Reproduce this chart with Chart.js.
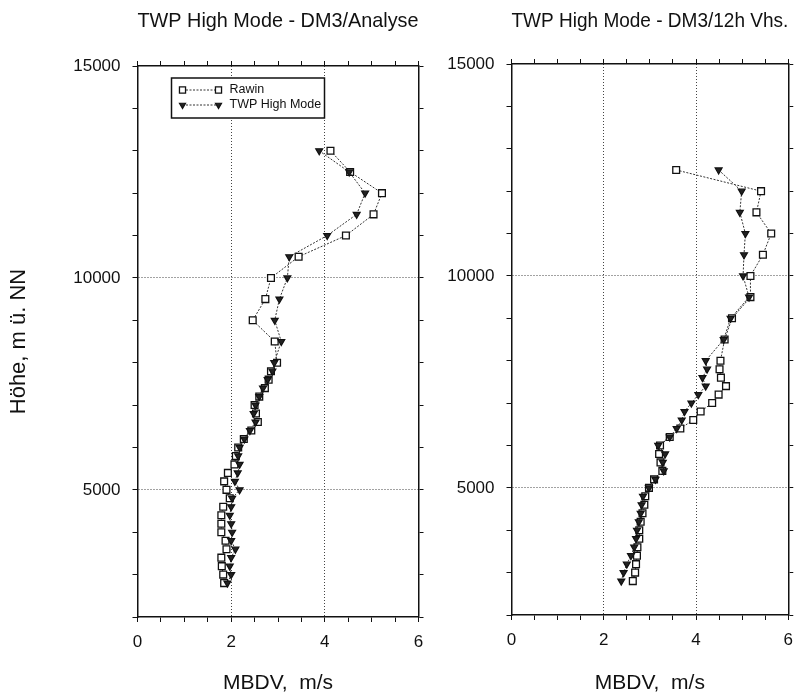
<!DOCTYPE html>
<html>
<head>
<meta charset="utf-8">
<title>MBDV profiles</title>
<script src="https://cdn.jsdelivr.net/npm/chart.js@4.4.1/dist/chart.umd.min.js"></script>
<style>
  html, body { margin: 0; padding: 0; background: #fff; }
  #wrap { position: relative; width: 803px; height: 698px; overflow: hidden; }
  .panel { position: absolute; top: 0; height: 698px; }
  #left { left: 0; width: 440px; }
  #right { left: 440px; width: 363px; }
</style>
</head>
<body>
<div id="wrap">
  <div class="panel" id="left"><canvas id="chartAnalyse"></canvas></div>
  <div class="panel" id="right"><canvas id="chartForecast"></canvas></div>
</div>
<script>
// heights (m above sea level) of the compared levels
const heightsAnalyse = [13000, 12500, 12000, 11500, 11000, 10500, 10000, 9500, 9000, 8500, 8000,
  7800, 7600, 7400, 7200, 7000, 6800, 6600, 6400, 6200, 6000, 5800, 5600, 5400, 5200, 5000,
  4800, 4600, 4400, 4200, 4000, 3800, 3600, 3400, 3200, 3000, 2800];
const heightsForecast = [12500, 12000, 11500, 11000, 10500, 10000, 9500, 9000, 8500, 8000,
  7800, 7600, 7400, 7200, 7000, 6800, 6600, 6400, 6200, 6000, 5800, 5600, 5400, 5200, 5000,
  4800, 4600, 4400, 4200, 4000, 3800, 3600, 3400, 3200, 3000, 2800];

// MBDV (m/s) against the DM3 analysis
const rawinAnalyse = [4.12, 4.54, 5.22, 5.04, 4.45, 3.44, 2.85, 2.73, 2.46, 2.93, 2.98,
  2.85, 2.80, 2.72, 2.60, 2.50, 2.53, 2.57, 2.43, 2.27, 2.15, 2.10, 2.07, 1.93, 1.85, 1.90,
  1.97, 1.83, 1.79, 1.79, 1.79, 1.88, 1.90, 1.79, 1.80, 1.83, 1.85];
const twpAnalyse = [3.88, 4.52, 4.86, 4.68, 4.05, 3.24, 3.20, 3.03, 2.93, 3.07, 2.92,
  2.88, 2.78, 2.68, 2.60, 2.52, 2.48, 2.52, 2.40, 2.28, 2.18, 2.15, 2.18, 2.14, 2.08, 2.18,
  2.02, 2.00, 1.97, 2.00, 2.02, 2.00, 2.09, 2.00, 1.97, 2.00, 1.92];

// MBDV (m/s) against the DM3 12 h forecast
const rawinForecast = [3.57, 5.41, 5.31, 5.63, 5.45, 5.18, 5.18, 4.78, 4.62, 4.53,
  4.51, 4.54, 4.65, 4.49, 4.35, 4.10, 3.94, 3.66, 3.43, 3.22, 3.20, 3.23, 3.27, 3.09, 2.98,
  2.90, 2.88, 2.84, 2.80, 2.77, 2.77, 2.73, 2.72, 2.70, 2.68, 2.63];
const twpForecast = [4.49, 4.99, 4.95, 5.07, 5.04, 5.02, 5.15, 4.75, 4.60, 4.21,
  4.24, 4.14, 4.21, 4.05, 3.90, 3.75, 3.69, 3.58, 3.43, 3.18, 3.33, 3.28, 3.30, 3.12, 2.98,
  2.85, 2.82, 2.80, 2.76, 2.72, 2.70, 2.66, 2.59, 2.50, 2.43, 2.38];

const xTickLabels = [0, 2, 4, 6];
const yTickLabels = [5000, 10000, 15000];
const xGridLines = [2, 4];
const yGridLines = [5000, 10000];

const FONT = '"Liberation Sans", Arial, Helvetica, sans-serif';
const INK = '#111';

function toPoints(values, heights) {
  return heights.map((h, i) => ({ x: values[i], y: h }));
}

// boxed legend with a short line sample and a marker at both ends
const profileLegend = {
  id: 'profileLegend',
  afterDatasetsDraw(chart) {
    const { ctx, chartArea } = chart;
    const x0 = chartArea.left + 34;
    const y0 = chartArea.top + 12;
    ctx.save();
    ctx.fillStyle = '#fff';
    ctx.fillRect(x0, y0, 153, 40);
    ctx.strokeStyle = INK;
    ctx.lineWidth = 1.5;
    ctx.strokeRect(x0, y0, 153, 40);
    chart.data.datasets.forEach((ds, i) => {
      const y = y0 + 12 + i * 15;
      const xa = x0 + 11;
      const xb = x0 + 47;
      ctx.setLineDash(ds.borderDash);
      ctx.strokeStyle = ds.borderColor;
      ctx.lineWidth = ds.borderWidth;
      ctx.beginPath();
      ctx.moveTo(xa, y);
      ctx.lineTo(xb, y);
      ctx.stroke();
      ctx.setLineDash([]);
      const style = { pointStyle: ds.pointStyle, rotation: ds.pointRotation, radius: ds.pointRadius - 0.5, borderWidth: ds.pointBorderWidth };
      ctx.fillStyle = ds.pointBackgroundColor;
      ctx.strokeStyle = ds.pointBorderColor;
      ctx.lineWidth = ds.pointBorderWidth;
      Chart.helpers.drawPoint(ctx, style, xa, y);
      Chart.helpers.drawPoint(ctx, style, xb, y);
      ctx.fillStyle = INK;
      ctx.font = '12.5px ' + FONT;
      ctx.textBaseline = 'middle';
      ctx.fillText(ds.label, xb + 11, y);
    });
    ctx.restore();
  }
};

function buildPanel(canvasId, cfg) {
  const ctx = document.getElementById(canvasId).getContext('2d');
  const tickFont = { family: FONT, size: 17 };
  const titleFont = { family: FONT, size: 21 };

  return new Chart(ctx, {
    type: 'scatter',
    data: {
      datasets: [{
        label: 'Rawin',
        data: toPoints(cfg.rawin, cfg.heights),
        showLine: true,
        order: 2,
        borderColor: '#333',
        borderWidth: 1,
        borderDash: [2, 1.5],
        pointStyle: 'rect',
        pointRotation: 0,
        pointRadius: 4.8,
        pointBorderWidth: 1.3,
        pointBorderColor: INK,
        pointBackgroundColor: '#fff'
      }, {
        label: 'TWP High Mode',
        data: toPoints(cfg.twp, cfg.heights),
        showLine: true,
        order: 1,
        borderColor: '#333',
        borderWidth: 1,
        borderDash: [2, 1.5],
        pointStyle: 'triangle',
        pointRotation: 180,
        pointRadius: 4,
        pointBorderWidth: 1.2,
        pointBorderColor: INK,
        pointBackgroundColor: '#222'
      }]
    },
    options: {
      responsive: true,
      maintainAspectRatio: false,
      animation: false,
      layout: { padding: 0 },
      plugins: {
        legend: { display: false },
        tooltip: { enabled: false }
      },
      scales: {
        x: {
          type: 'linear', position: 'bottom', min: 0, max: 6,
          ticks: {
            stepSize: 0.5, autoSkip: false, maxRotation: 0, color: INK, font: tickFont, padding: 10,
            callback: v => (xTickLabels.includes(v) ? v : '')
          },
          grid: {
            color: c => (c.tick && xGridLines.includes(c.tick.value) ? '#444' : 'rgba(0,0,0,0)'),
            tickColor: INK, tickLength: 5, lineWidth: 1
          },
          border: { display: true, color: INK, width: 1.5, dash: [1, 2] },
          title: { display: true, text: 'MBDV,  m/s', color: INK, font: titleFont, padding: { top: 0, bottom: 2 } },
          afterFit: s => { s.height = 698 - cfg.bottom; }
        },
        xTop: {
          type: 'linear', position: 'top', min: 0, max: 6,
          ticks: { stepSize: 0.5, display: false, autoSkip: false },
          grid: { drawOnChartArea: false, tickColor: INK, tickLength: 5 },
          border: { display: true, color: INK, width: 1.5 },
          title: { display: true, text: cfg.title, color: INK, font: titleFont, padding: { top: 9, bottom: 0 } },
          afterFit: s => { s.height = cfg.top; }
        },
        y: {
          type: 'linear', position: 'left', min: 2000, max: 15000,
          ticks: {
            stepSize: 1000, autoSkip: false, color: INK, font: tickFont, padding: 12,
            callback: v => (yTickLabels.includes(v) ? v : '')
          },
          grid: {
            color: c => (c.tick && yGridLines.includes(c.tick.value) ? '#444' : 'rgba(0,0,0,0)'),
            tickColor: INK, tickLength: 5, lineWidth: 1
          },
          border: { display: true, color: INK, width: 1.5, dash: [1, 2] },
          title: { display: cfg.yTitle !== '', text: cfg.yTitle, color: INK, font: { family: FONT, size: 22 }, padding: { top: 6, bottom: 0 } },
          afterFit: s => { s.width = cfg.left; }
        },
        yRight: {
          type: 'linear', position: 'right', min: 2000, max: 15000,
          ticks: { stepSize: 1000, display: false, autoSkip: false },
          grid: { drawOnChartArea: false, tickColor: INK, tickLength: 5 },
          border: { display: true, color: INK, width: 1.5 },
          afterFit: s => { s.width = cfg.rightGap; }
        }
      }
    },
    plugins: cfg.legend ? [profileLegend] : []
  });
}

buildPanel('chartAnalyse', {
  title: 'TWP High Mode - DM3/Analyse',
  yTitle: 'Höhe, m ü. NN',
  heights: heightsAnalyse,
  rawin: rawinAnalyse,
  twp: twpAnalyse,
  top: 66, bottom: 617, left: 137.5, rightGap: 21.5,
  legend: true
});

buildPanel('chartForecast', {
  title: 'TWP High Mode - DM3/12h Vhs.',
  yTitle: '',
  heights: heightsForecast,
  rawin: rawinForecast,
  twp: twpForecast,
  top: 64, bottom: 615, left: 71.5, rightGap: 9.5,
  legend: false
});
</script>
</body>
</html>
